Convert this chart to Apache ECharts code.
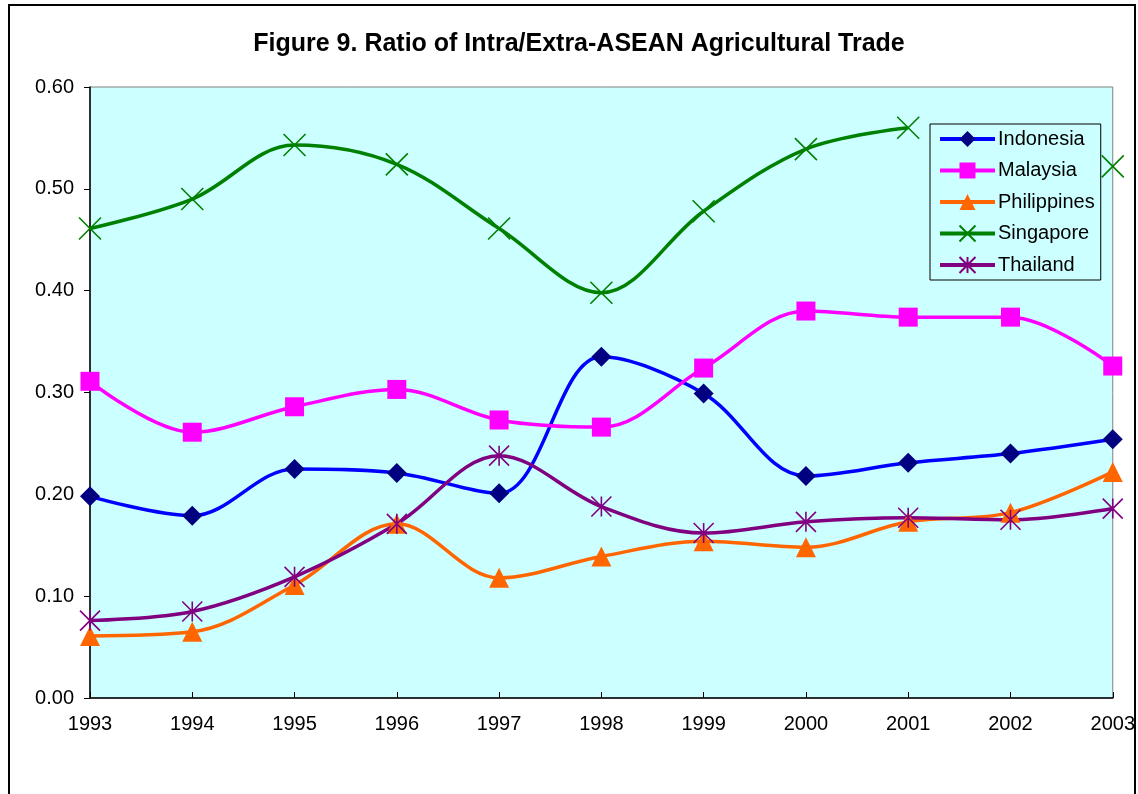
<!DOCTYPE html>
<html>
<head>
<meta charset="utf-8">
<script src="https://cdn.jsdelivr.net/npm/echarts@6/dist/echarts.min.js"></script>
<style>html,body{margin:0;padding:0;background:#fff}#c{width:1138px;height:794px}</style>
</head>
<body>
<div id="c"></div>
<script>
const years = ['1993','1994','1995','1996','1997','1998','1999','2000','2001','2002','2003'];
const indonesia   = [0.198,0.179,0.225,0.221,0.201,0.335,0.299,0.218,0.231,0.240,0.254];
const malaysia    = [0.311,0.261,0.286,0.303,0.273,0.266,0.324,0.380,0.374,0.374,0.326];
const philippines = [0.061,0.065,0.111,0.171,0.118,0.139,0.154,0.148,0.173,0.182,0.222];
const singapore   = [0.461,0.490,0.543,0.524,0.461,0.398,0.478,0.539,0.560,null,0.522];
const thailand    = [0.076,0.085,0.119,0.171,0.238,0.188,0.162,0.173,0.177,0.175,0.186];
const yTicks = [0, 0.1, 0.2, 0.3, 0.4, 0.5, 0.6];

const font = '"Liberation Sans", Arial, sans-serif';
const xPath = 'path://M0,0L10,10M10,0L0,10';
const starPath = 'path://M0,0L10,10M10,0L0,10M5,0L5,10';

function mk(name, data, lineColor, markColor, symbol, size, stroke) {
  return {
    name, type: 'line', data, smooth: 0.35,
    symbol, symbolSize: size, symbolKeepAspect: true,
    showAllSymbol: true,
    lineStyle: { color: lineColor, width: 3.5 },
    itemStyle: stroke
      ? { color: 'rgba(0,0,0,0)', borderColor: markColor, borderWidth: 1.6 }
      : { color: markColor, borderColor: markColor, borderWidth: 0 },
    emphasis: { disabled: true },
    z: 3
  };
}

const chart = echarts.init(document.getElementById('c'));
chart.setOption({
  animation: false,
  backgroundColor: '#ffffff',
  title: {
    text: 'Figure 9. Ratio of Intra/Extra-ASEAN Agricultural Trade',
    left: 574, top: 27, textAlign: 'center',
    textStyle: { fontFamily: font, fontWeight: 'bold', fontSize: 25, color: '#000' }
  },
  graphic: [{
    type: 'rect', shape: { x: 9, y: 5, width: 1126, height: 820 },
    style: { fill: 'none', stroke: '#000', lineWidth: 2 }, z: 100, silent: true
  }],
  grid: {
    left: 90, right: 25, top: 87, bottom: 96, show: true,
    backgroundColor: '#CCFFFF', borderColor: '#808080', borderWidth: 1
  },
  legend: {
    orient: 'vertical', left: 930, top: 124,
    padding: [5, 6, 5, 8],
    backgroundColor: '#CCFFFF', borderColor: '#000', borderWidth: 1,
    itemWidth: 55, itemHeight: 20, itemGap: 11.5,
    lineStyle: { width: 4 },
    textStyle: { fontFamily: font, fontSize: 20, color: '#000', lineHeight: 20, padding: [0, 0, 0, -2] },
    data: ['Indonesia','Malaysia','Philippines','Singapore','Thailand']
  },
  xAxis: {
    type: 'category', data: years, boundaryGap: false,
    axisLine: { lineStyle: { color: '#000', width: 1.5 } },
    axisTick: { show: true, inside: true, length: 6, lineStyle: { color: '#000' }, alignWithLabel: true },
    axisLabel: { fontFamily: font, fontSize: 20, color: '#000', margin: 16 },
    splitLine: { show: false }
  },
  yAxis: {
    type: 'value', min: 0, max: 0.6, interval: 0.1,
    axisLine: { show: true, lineStyle: { color: '#000', width: 1.5 } },
    axisTick: { show: true, length: 6, lineStyle: { color: '#000' } },
    axisLabel: { fontFamily: font, fontSize: 20, color: '#000', margin: 16,
      formatter: v => v.toFixed(2) },
    splitLine: { show: false }
  },
  series: [
    mk('Indonesia', indonesia, '#0000FF', '#000080', 'diamond', 20, false),
    mk('Malaysia', malaysia, '#FF00FF', '#FF00FF', 'rect', 19, false),
    mk('Philippines', philippines, '#FF6600', '#FF6600', 'triangle', 20, false),
    mk('Singapore', singapore, '#008000', '#008000', xPath, 22, true),
    mk('Thailand', thailand, '#800080', '#800080', starPath, 20, true)
  ]
});
</script>
</body>
</html>
